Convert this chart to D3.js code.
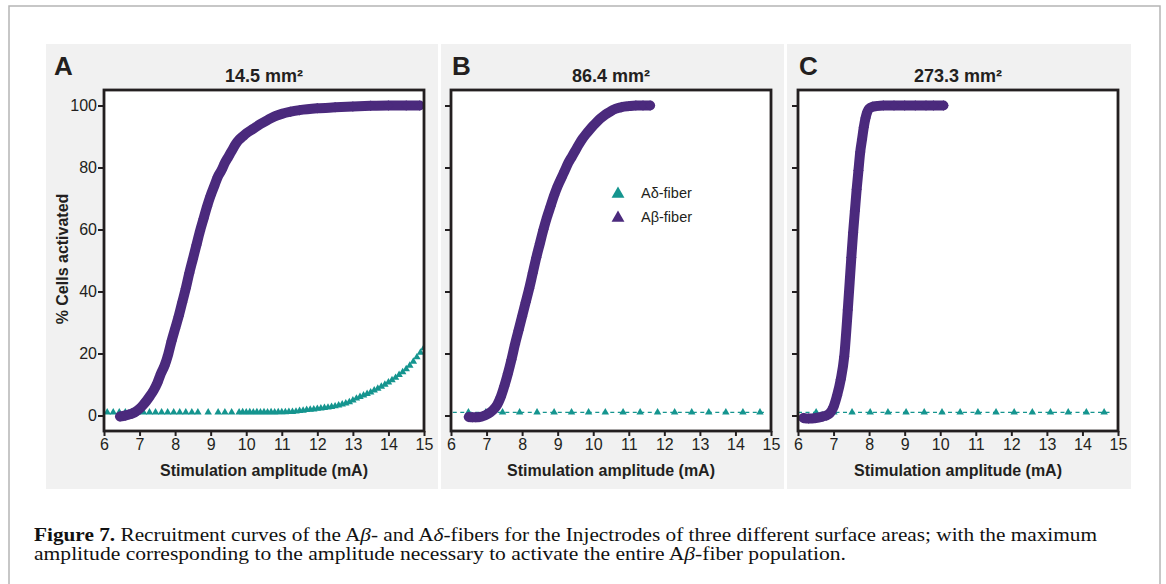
<!DOCTYPE html>
<html>
<head>
<meta charset="utf-8">
<script src="https://cdn.jsdelivr.net/npm/d3@7"></script>
<style>
  body { margin: 0; background: #fff; }
  svg { display: block; }
</style>
</head>
<body>
<svg id="fig" width="1166" height="584"></svg>
<script>
const xTicks = [6, 7, 8, 9, 10, 11, 12, 13, 14, 15];
const yTicks = [0, 20, 40, 60, 80, 100];
const panelLetters = ["A", "B", "C"];
const panelAreas = ["14.5", "86.4", "273.3"];
const legendLabels = ["Aδ-fiber", "Aβ-fiber"];

// A-beta fiber recruitment (% cells activated vs mA)
const betaA = [
  [6.45, -0.3], [6.6, 0], [6.7, 0.3], [6.8, 0.7], [6.9, 1.3], [7.0, 2.2], [7.1, 3.4],
  [7.2, 4.8], [7.3, 6.4], [7.4, 8.2], [7.5, 10.5], [7.6, 13.5], [7.7, 16], [7.8, 19.5],
  [7.9, 24], [8.0, 28], [8.1, 32], [8.2, 36.5], [8.3, 41], [8.4, 46], [8.5, 50.5],
  [8.6, 55], [8.7, 59.5], [8.8, 63.5], [8.9, 67.5], [9.0, 71], [9.1, 74], [9.2, 77],
  [9.3, 79], [9.4, 81.5], [9.5, 83.5], [9.6, 85.5], [9.7, 87.5], [9.8, 89], [9.9, 90],
  [10.0, 91], [10.2, 92.5], [10.4, 94], [10.6, 95.3], [10.8, 96.5], [11.0, 97.3],
  [11.25, 98], [11.5, 98.5], [12.0, 99.1], [12.5, 99.4], [13.0, 99.7], [13.5, 99.9],
  [14.0, 100], [14.5, 100], [14.88, 100]
];
const betaB = [
  [6.5, -0.5], [6.6, -0.6], [6.7, -0.6], [6.8, -0.5], [6.9, -0.2], [7.0, 0.3], [7.1, 1],
  [7.2, 2], [7.3, 3.5], [7.4, 6], [7.5, 9.5], [7.6, 13.5], [7.7, 18], [7.8, 23],
  [7.9, 27.5], [8.0, 32], [8.1, 36.5], [8.2, 41], [8.3, 46], [8.4, 51], [8.5, 55.5],
  [8.6, 60], [8.7, 64], [8.8, 67.5], [8.9, 71], [9.0, 74], [9.1, 76.5], [9.2, 79],
  [9.3, 81.5], [9.4, 83.5], [9.5, 85.5], [9.6, 87.5], [9.7, 89.3], [9.8, 90.8],
  [9.9, 92.2], [10.0, 93.5], [10.1, 94.7], [10.2, 95.8], [10.3, 96.7], [10.4, 97.5],
  [10.5, 98.2], [10.6, 98.8], [10.7, 99.2], [10.8, 99.5], [11.0, 99.8], [11.2, 100],
  [11.4, 100], [11.6, 100]
];
const betaC = [
  [6.15, -0.8], [6.3, -1], [6.5, -0.8], [6.7, -0.3], [6.8, 0], [6.9, 0.8], [7.0, 2.8],
  [7.1, 6.5], [7.2, 11.5], [7.3, 19], [7.4, 34], [7.5, 51], [7.55, 59], [7.6, 66],
  [7.65, 73], [7.7, 79], [7.75, 85], [7.8, 89], [7.85, 93], [7.9, 96], [7.95, 98],
  [8.0, 99], [8.1, 99.6], [8.2, 99.8], [8.4, 100], [8.7, 100], [9.0, 100], [9.3, 100],
  [9.6, 100], [9.81, 100], [10.09, 100]
];

// A-delta fiber recruitment
const deltaA = [
  [6.09, 1], [6.26, 1], [6.43, 1], [6.6, 1], [6.77, 1], [6.94, 1], [7.11, 1], [7.28, 1],
  [7.45, 1], [7.62, 1], [7.79, 1], [7.96, 1], [8.13, 1], [8.3, 1], [8.47, 1], [8.64, 1],
  [8.93, 1], [9.21, 1], [9.4, 1], [9.59, 1],
  [9.8, 1], [9.9, 1.1], [10.0, 1], [10.1, 1.1], [10.2, 1], [10.3, 1.1], [10.4, 1],
  [10.5, 1.1], [10.6, 1], [10.7, 1.1], [10.8, 1], [10.9, 1.1], [11.0, 1.1], [11.1, 1.1],
  [11.2, 1.2], [11.3, 1.2], [11.4, 1.3], [11.5, 1.5], [11.6, 1.6], [11.7, 1.8],
  [11.8, 1.9], [11.9, 2.0], [12.0, 2.2], [12.1, 2.3], [12.2, 2.5], [12.3, 2.6],
  [12.4, 2.8], [12.5, 3.0], [12.6, 3.3], [12.7, 3.6], [12.8, 3.9], [12.9, 4.3],
  [13.0, 4.9], [13.1, 5.5], [13.2, 6.0], [13.3, 6.5], [13.4, 7.0], [13.5, 7.5],
  [13.6, 8.1], [13.7, 8.7], [13.8, 9.3], [13.9, 10.0], [14.0, 10.7], [14.1, 11.4],
  [14.2, 12.2], [14.3, 13.1], [14.4, 14.0], [14.5, 15.0], [14.6, 16.1], [14.7, 17.4],
  [14.8, 18.8], [14.9, 20.3], [15.0, 21.8]
];
const deltaB = [
  [6.49, 1], [6.98, 1], [7.45, 1], [7.93, 1], [8.42, 1], [8.9, 1], [9.39, 1], [9.87, 1],
  [10.34, 1], [10.84, 1], [11.32, 1], [11.81, 1], [12.29, 1], [12.77, 1], [13.25, 1],
  [13.73, 1], [14.21, 1], [14.69, 1]
];
const deltaC = [
  [6.51, 1], [7.01, 1], [7.52, 1], [8.03, 1], [8.53, 1], [9.04, 1], [9.55, 1], [10.05, 1],
  [10.56, 1], [11.06, 1], [11.57, 1], [12.08, 1], [12.59, 1], [13.1, 1], [13.6, 1],
  [14.11, 1], [14.61, 1]
];
const deltaLineB = [[6.05, 1], [14.8, 1]];
const deltaLineC = [[6.0, 1], [14.86, 1]];

const purple = "#4b2a7d";
const teal = "#15958f";
const ink = "#231f20";
const sans = "'Liberation Sans', Arial, Helvetica, sans-serif";

const svg = d3.select("#fig");

// outer figure frame
svg.append("rect")
  .attr("x", 9).attr("y", 6).attr("width", 1151).attr("height", 620)
  .attr("fill", "#fff").attr("stroke", "#b5b5b5").attr("stroke-width", 1.5);

const layout = [
  { bg: [46, 438], left: 104, beta: betaA, delta: deltaA, dash: null, labels: true },
  { bg: [441, 784], left: 451, beta: betaB, delta: deltaB, dash: deltaLineB, labels: false },
  { bg: [787, 1131], left: 798, beta: betaC, delta: deltaC, dash: deltaLineC, labels: false }
];
const plotTop = 90, plotBottom = 431, plotW = 320;

const diamond = {
  draw(ctx, size) {
    const r = Math.sqrt(size) / 2;
    ctx.moveTo(0, -r); ctx.lineTo(r, 0); ctx.lineTo(0, r); ctx.lineTo(-r, 0); ctx.closePath();
  }
};
const tri = d3.symbol(d3.symbolTriangle, 24);

layout.forEach((p, i) => {
  const g = svg.append("g");
  g.append("rect")
    .attr("x", p.bg[0]).attr("y", 44)
    .attr("width", p.bg[1] - p.bg[0]).attr("height", 445)
    .attr("fill", "#f1f1f1");

  const x = d3.scaleLinear().domain([6, 15]).range([p.left, p.left + plotW]);
  const y = d3.scaleLinear().domain([-5, 105]).range([plotBottom, plotTop]);

  g.append("rect")
    .attr("x", p.left).attr("y", plotTop).attr("width", plotW).attr("height", plotBottom - plotTop)
    .attr("fill", "#fff");

  const clipId = "clip" + i;
  g.append("clipPath").attr("id", clipId).append("rect")
    .attr("x", p.left).attr("y", plotTop).attr("width", plotW).attr("height", plotBottom - plotTop);

  const plot = g.append("g").attr("clip-path", `url(#${clipId})`);

  // A-delta
  if (p.dash) {
    plot.append("path")
      .datum(p.dash)
      .attr("d", d3.line().x(d => x(d[0])).y(d => y(d[1])))
      .attr("fill", "none").attr("stroke", teal).attr("stroke-width", 1.2)
      .attr("stroke-dasharray", "4,3.5");
  }
  plot.append("g").selectAll("path")
    .data(p.delta).join("path")
    .attr("transform", d => `translate(${x(d[0])},${y(d[1])})`)
    .attr("d", tri)
    .attr("fill", teal);

  // A-beta
  plot.append("path")
    .datum(p.beta)
    .attr("d", d3.line().curve(d3.curveMonotoneX).x(d => x(d[0])).y(d => y(d[1])))
    .attr("fill", "none").attr("stroke", purple).attr("stroke-width", 10)
    .attr("stroke-linecap", "round").attr("stroke-linejoin", "round");
  plot.append("g").selectAll("path")
    .data(p.beta).join("path")
    .attr("transform", d => `translate(${x(d[0])},${y(d[1])})`)
    .attr("d", d3.symbol(diamond, 110))
    .attr("fill", purple);

  // axes
  const xAxis = g.append("g")
    .attr("transform", `translate(0,${plotBottom})`)
    .call(d3.axisBottom(x).tickValues(xTicks).tickSize(5).tickPadding(3));
  const yAxis = g.append("g")
    .attr("transform", `translate(${p.left},0)`)
    .call(d3.axisLeft(y).tickValues(yTicks).tickSize(6).tickPadding(1)
      .tickFormat(p.labels ? d3.format("d") : () => ""));
  [xAxis, yAxis].forEach(a => {
    a.select(".domain").remove();
    a.selectAll("line").attr("stroke", ink).attr("stroke-width", 2);
    a.selectAll("text").attr("font-family", sans).attr("font-size", 16).attr("fill", ink);
  });

  g.append("rect")
    .attr("x", p.left).attr("y", plotTop).attr("width", plotW).attr("height", plotBottom - plotTop)
    .attr("fill", "none").attr("stroke", ink).attr("stroke-width", 2.8);

  // titles
  g.append("text")
    .attr("x", i === 0 ? 54 : p.left + 1).attr("y", 75)
    .attr("font-family", sans).attr("font-weight", "bold").attr("font-size", 26)
    .attr("fill", ink).text(panelLetters[i]);
  g.append("text")
    .attr("x", p.left + plotW / 2).attr("y", 82)
    .attr("text-anchor", "middle")
    .attr("font-family", sans).attr("font-weight", "bold").attr("font-size", 18)
    .attr("fill", ink).text(panelAreas[i] + " mm²");
  g.append("text")
    .attr("x", p.left + plotW / 2).attr("y", 476)
    .attr("text-anchor", "middle")
    .attr("font-family", sans).attr("font-weight", "bold").attr("font-size", 16)
    .attr("fill", ink).text("Stimulation amplitude (mA)");

  if (i === 0) {
    g.append("text")
      .attr("transform", "translate(68,259) rotate(-90)")
      .attr("text-anchor", "middle")
      .attr("font-family", sans).attr("font-weight", "bold").attr("font-size", 16)
      .attr("fill", ink).text("% Cells activated");
  }

  if (i === 1) {
    const leg = g.append("g");
    [teal, purple].forEach((c, k) => {
      leg.append("path")
        .attr("transform", `translate(618,${194 + k * 24})`)
        .attr("d", d3.symbol(d3.symbolTriangle, 72)())
        .attr("fill", c);
      leg.append("text")
        .attr("x", 641).attr("y", 198 + k * 24)
        .attr("font-family", sans).attr("font-size", 14.5).attr("fill", ink)
        .text(legendLabels[k]);
    });
  }
});

// caption
const serif = "'Liberation Serif', 'Times New Roman', serif";
const cap = svg.append("g").attr("font-family", serif).attr("font-size", 18).attr("fill", "#111");
const l1 = cap.append("text").attr("x", 34).attr("y", 541)
  .attr("textLength", 1063).attr("lengthAdjust", "spacingAndGlyphs");
l1.append("tspan").attr("font-weight", "bold").text("Figure 7.");
l1.append("tspan").text(" Recruitment curves of the A");
l1.append("tspan").attr("font-style", "italic").text("β");
l1.append("tspan").text("- and A");
l1.append("tspan").attr("font-style", "italic").text("δ");
l1.append("tspan").text("-fibers for the Injectrodes of three different surface areas; with the maximum");
const l2 = cap.append("text").attr("x", 34).attr("y", 560)
  .attr("textLength", 812).attr("lengthAdjust", "spacingAndGlyphs");
l2.append("tspan").text("amplitude corresponding to the amplitude necessary to activate the entire A");
l2.append("tspan").attr("font-style", "italic").text("β");
l2.append("tspan").text("-fiber population.");
</script>
</body>
</html>
